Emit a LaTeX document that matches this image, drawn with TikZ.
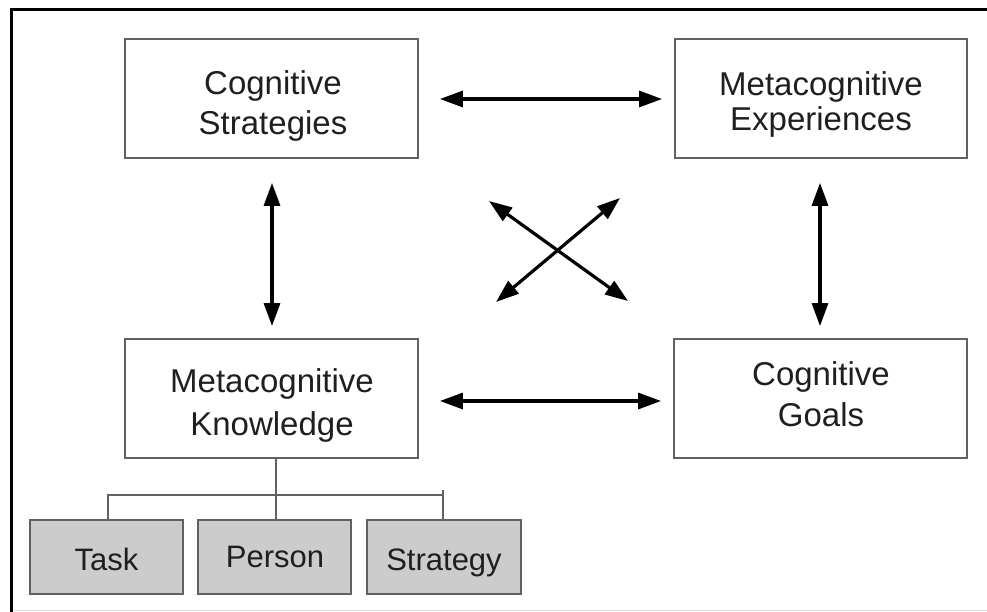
\documentclass[tikz,border=0pt]{standalone}
\usepackage{fontspec}
\setmainfont{Liberation Sans}
\usetikzlibrary{arrows.meta}
\begin{document}
\begin{tikzpicture}[x=1pt,y=-1pt,
  box/.style={draw=black!62, line width=1.8pt, minimum width=293pt, minimum height=119pt, inner sep=0pt},
  leaf/.style={draw=black!62, line width=1.8pt, fill=black!20, minimum width=153pt, minimum height=74pt, inner sep=0pt},
  lbl/.style={anchor=base, inner sep=0pt, text=black!88, font=\fontsize{33}{38}\selectfont},
  leaflbl/.style={anchor=base, inner sep=0pt, text=black!88, font=\fontsize{31}{36}\selectfont},
  dbl/.style={{Triangle[length=23pt,width=16pt]}-{Triangle[length=23pt,width=16pt]}, line width=3.2pt, black},
  tree/.style={draw=black!62, line width=2pt}]
\useasboundingbox (0,0) rectangle (987,612);

% frame
\draw[black!12, line width=1.5pt] (11,610.5) -- (987,610.5);
\draw[black, line width=3pt] (11.5,612) -- (11.5,9.5) -- (987,9.5);

% main boxes
\node[box] (cs) at (271.5,98.5) {};
\node[box, minimum width=292pt] (me) at (821,98.5) {};
\node[box] (mk) at (271.5,398.5) {};
\node[box] (cg) at (820.5,398.5) {};

\node[lbl] (csA) at (273,95) {Cognitive};
\node[lbl] (csB) at (273,135) {Strategies};
\node[lbl] (meA) at (821,96) {Metacognitive};
\node[lbl] (meB) at (821,131) {Experiences};
\node[lbl] (mkA) at (272,392) {Metacognitive};
\node[lbl] (mkB) at (272,435) {Knowledge};
\node[lbl] (cgA) at (821,385) {Cognitive};
\node[lbl] (cgB) at (821,426) {Goals};

% knowledge components
\node[leaf] (task) at (106.5,557) {};
\node[leaf] (person) at (274.5,557) {};
\node[leaf, minimum width=154pt] (strategy) at (444,557) {};
\node[leaflbl] (taskT) at (106.5,570) {Task};
\node[leaflbl] (personT) at (275,567) {Person};
\node[leaflbl] (strategyT) at (444,570) {Strategy};

% tree under knowledge
\coordinate (stem) at (276,495);
\coordinate (tL) at (108,495);
\coordinate (tR) at (443,495);
\draw[tree] (stem |- mk.south) -- (stem |- person.north);
\draw[tree] (tL |- task.north) -- (tL) -- (tR);
\draw[tree] ([yshift=5pt]tR) -- (tR |- strategy.north);

% two-way links
\draw[dbl] ([xshift=21pt,yshift=-0.5pt]cs.east) -- ([xshift=-12pt,yshift=-0.5pt]me.west);
\draw[dbl] ([xshift=21pt,yshift=-2.5pt]mk.east) -- ([xshift=-12pt,yshift=-2.5pt]cg.west);
\draw[dbl] ([xshift=0.5pt,yshift=-24pt]cs.south) -- ([xshift=0.5pt,yshift=12pt]mk.north);
\draw[dbl] ([xshift=-1pt,yshift=-24pt]me.south) -- ([xshift=-0.5pt,yshift=12pt]cg.north);

% crossing links
\coordinate (x1) at (489,201);
\coordinate (x2) at (628,301);
\coordinate (x3) at (496,302);
\coordinate (x4) at (620,198);
\draw[dbl] (x1) -- (x2);
\draw[dbl] (x3) -- (x4);
\end{tikzpicture}
\end{document}
